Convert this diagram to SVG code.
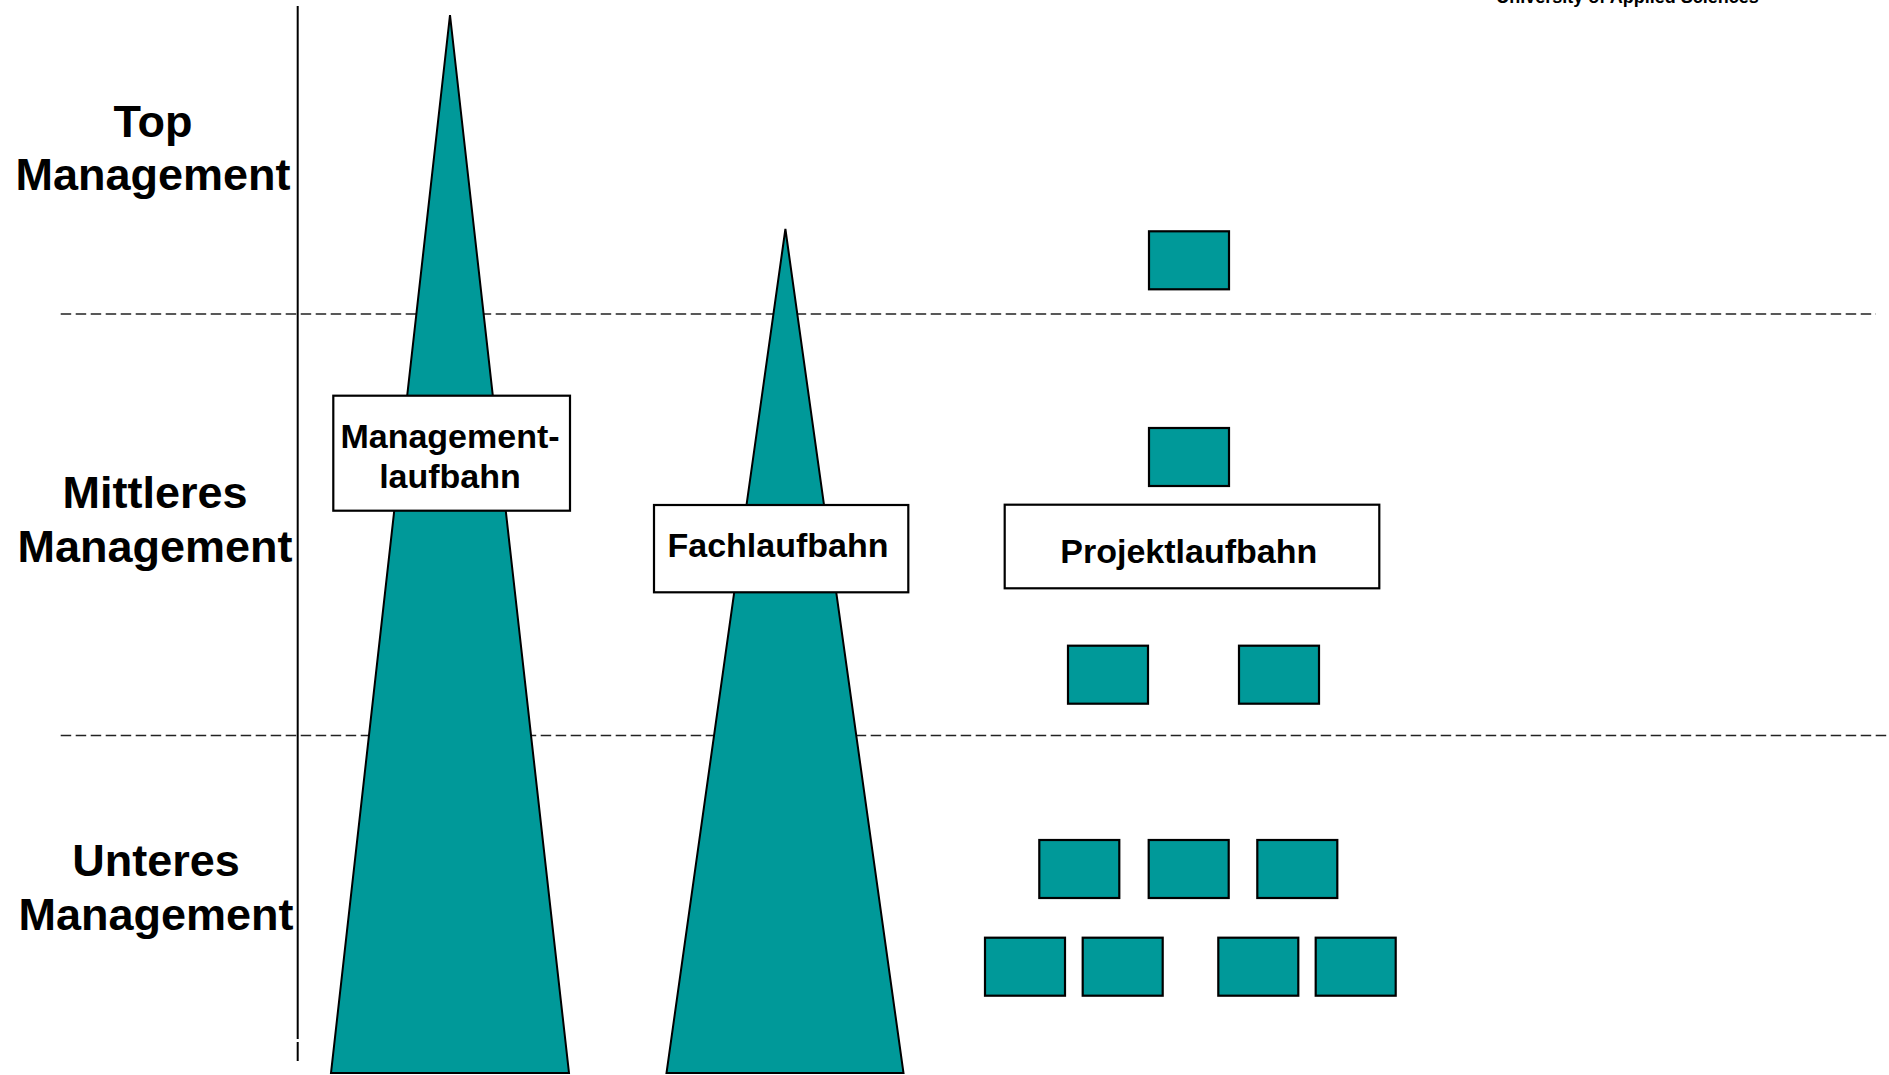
<svg xmlns="http://www.w3.org/2000/svg" width="1889" height="1075" viewBox="0 0 1889 1075">
<style>
.lbl{font-family:"Liberation Sans",Arial,sans-serif;font-weight:bold;fill:#000;text-anchor:middle}
.big{font-size:45px}
.box{font-size:34px}
.dash{stroke:#222;stroke-width:1.7;stroke-dasharray:10.5 4.5;fill:none}
.tri{fill:#009999;stroke:#000;stroke-width:2;stroke-linejoin:miter}
.tb{fill:#009999;stroke:#000;stroke-width:2.2}
.wb{fill:#fff;stroke:#000;stroke-width:2.2}
</style>
<rect width="1889" height="1075" fill="#fff"/>
<text class="lbl" x="1627.5" y="3" font-size="18">University of Applied Sciences</text>
<g id="levels">
<line class="dash" x1="60.7" y1="314" x2="1876" y2="314"/>
<line class="dash" x1="60.7" y1="735.5" x2="1889" y2="735.5"/>
<line x1="297.7" y1="6" x2="297.7" y2="1039" stroke="#000" stroke-width="2"/>
<line x1="297.7" y1="1042" x2="297.7" y2="1061" stroke="#000" stroke-width="2"/>
</g>
<g id="label-top">
<text class="lbl big" x="153" y="137">Top</text>
<text class="lbl big" x="153" y="190">Management</text>
</g>
<g id="label-mittleres">
<text class="lbl big" x="155" y="508">Mittleres</text>
<text class="lbl big" x="155" y="562">Management</text>
</g>
<g id="label-unteres">
<text class="lbl big" x="156" y="876">Unteres</text>
<text class="lbl big" x="156" y="930">Management</text>
</g>
<g id="managementlaufbahn">
<polygon class="tri" points="450,15 569,1073 331,1073"/>
<rect class="wb" x="333.3" y="395.7" width="236.7" height="115"/>
<text class="lbl box" x="450" y="448.3">Management-</text>
<text class="lbl box" x="450" y="488.3">laufbahn</text>
</g>
<g id="fachlaufbahn">
<polygon class="tri" points="785.4,229 903.5,1073 666.5,1073"/>
<rect class="wb" x="654" y="505" width="254.3" height="87.3"/>
<text class="lbl box" x="778" y="556.5">Fachlaufbahn</text>
</g>
<g id="projektlaufbahn">
<rect class="tb" x="1149" y="231.3" width="80" height="58"/>
<rect class="tb" x="1149" y="428" width="80" height="58"/>
<rect class="wb" x="1004.7" y="504.7" width="374.6" height="83.6"/>
<text class="lbl box" x="1188.8" y="563.3">Projektlaufbahn</text>
<rect class="tb" x="1068" y="645.7" width="80" height="58"/>
<rect class="tb" x="1239" y="645.7" width="80" height="58"/>
<rect class="tb" x="1039.3" y="840" width="80" height="58"/>
<rect class="tb" x="1148.7" y="840" width="80" height="58"/>
<rect class="tb" x="1257.3" y="840" width="80" height="58"/>
<rect class="tb" x="985" y="937.7" width="80" height="58"/>
<rect class="tb" x="1082.7" y="937.7" width="80" height="58"/>
<rect class="tb" x="1218.3" y="937.7" width="80" height="58"/>
<rect class="tb" x="1315.7" y="937.7" width="80" height="58"/>
</g>
</svg>
